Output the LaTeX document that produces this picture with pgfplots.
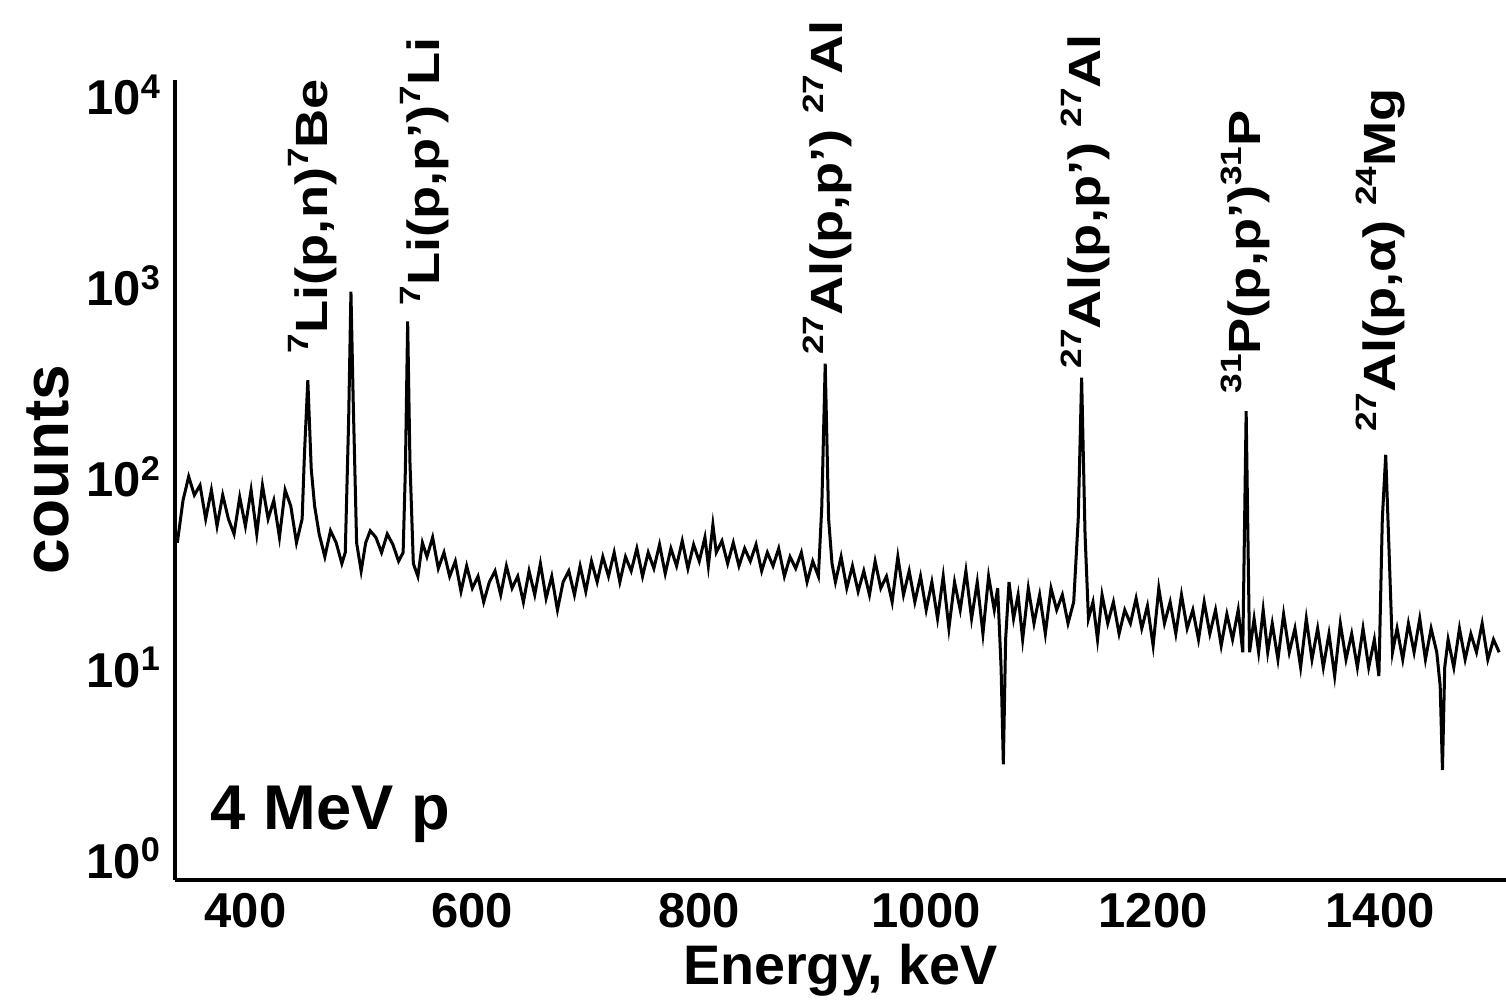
\documentclass[border=0pt]{standalone}
\usepackage{fontspec}
\setmainfont{Liberation Sans}
\usepackage{graphicx}
\usepackage{pgfplots}
\pgfplotsset{compat=1.18}
\newcommand{\lbl}[1]{\scalebox{1.2}[1]{#1}}
\newcommand{\sups}[1]{\raisebox{0.42em}{\fontsize{7.8}{8}\selectfont #1}}
\begin{document}
\begin{tikzpicture}
\path[use as bounding box] (-46.5pt,-34pt) rectangle (353.5pt,233.7pt);
\begin{axis}[
  at={(0,0)}, anchor=south west,
  width=353.5pt, height=212.5pt, scale only axis,
  xmin=338, xmax=1511, ymode=log, ymin=0.77, ymax=12000,
  axis x line=bottom, axis y line=left,
  axis line style={-, line width=0.9pt},
  major tick length=0, minor tick length=0,
  xtick={400,600,800,1000,1200,1400},
  ytick={1,10,100,1000,10000},
  yticklabels={10\textsuperscript{0},10\textsuperscript{1},10\textsuperscript{2},10\textsuperscript{3},10\textsuperscript{4}},
  tick label style={font=\bfseries\fontsize{13}{13}\selectfont},
  /pgf/number format/assume math mode=true,
  xticklabel={\pgfmathprintnumber[fixed,1000 sep={}]{\tick}},
  clip=false,
]
\addplot[black, line width=0.8pt] coordinates {
(340,45)(345,75)(350,100)(355,80)(360,90)(365,60)(370,85)(375,55)(380,80)(385,60)
(390,50)(395,78)(400,55)(405,85)(410,50)(415,90)(420,60)(425,75)(430,48)(435,85)
(440,70)(445,45)(450,60)(452,130)(455,320)(458,110)(461,70)(465,50)(470,38)(475,52)
(480,45)(485,35)(488,40)(491,200)(493,930)(495,250)(498,45)(502,32)(506,45)(510,52)
(515,48)(520,40)(525,50)(530,44)(535,36)(539,40)(541,110)(543,650)(545,120)(548,35)
(552,30)(556,45)(560,38)(565,48)(570,33)(575,40)(580,30)(585,36)(590,25)(595,34)
(600,26)(605,30)(610,22)(615,28)(620,32)(625,24)(630,34)(635,26)(640,30)(645,22)
(650,32)(655,24)(660,35)(665,23)(670,30)(675,20)(680,28)(685,32)(690,24)(695,34)
(700,25)(705,36)(710,28)(715,38)(720,30)(725,40)(730,28)(735,38)(740,32)(745,42)
(750,30)(755,40)(760,33)(765,44)(770,31)(775,42)(780,34)(785,46)(790,33)(795,44)
(800,36)(805,48)(808,34)(812,56)(815,40)(820,46)(825,35)(830,45)(835,34)(840,42)
(845,36)(850,44)(855,32)(860,40)(865,34)(870,42)(875,30)(880,38)(885,33)(890,40)
(895,28)(900,36)(905,30)(908,70)(911,390)(914,60)(917,35)(920,28)(925,38)(930,26)
(935,34)(940,25)(945,32)(950,24)(955,36)(960,26)(965,30)(970,22)(975,38)(980,24)
(985,32)(990,22)(995,30)(1000,20)(1005,28)(1010,18)(1015,30)(1020,16)(1025,28)(1030,20)
(1035,32)(1040,18)(1045,28)(1050,15)(1055,30)(1060,20)(1063,26)(1066,10)(1068,3.1)(1070,14)
(1073,28)(1077,18)(1081,24)(1085,14)(1090,26)(1095,17)(1100,24)(1105,15)(1110,26)(1115,20)
(1120,24)(1125,17)(1130,22)(1134,60)(1137,330)(1140,50)(1143,18)(1147,22)(1151,14)(1155,24)
(1160,17)(1165,22)(1170,15)(1175,20)(1180,17)(1185,23)(1190,16)(1195,21)(1200,13)(1205,26)
(1210,17)(1215,22)(1220,15)(1225,24)(1230,16)(1235,20)(1240,14)(1245,22)(1250,15)(1255,20)
(1260,13)(1265,19)(1270,14)(1275,20)(1279,12)(1282,220)(1285,12)(1289,18)(1293,12)(1297,20)
(1301,12)(1305,17)(1310,11)(1315,19)(1320,12)(1325,16)(1330,10)(1335,18)(1340,11)(1345,16)
(1350,10)(1355,15)(1360,9)(1365,17)(1370,11)(1375,15)(1380,10)(1385,16)(1390,10)(1395,14)
(1399,9)(1402,60)(1405,130)(1408,40)(1411,12)(1415,16)(1420,11)(1425,17)(1430,12)(1435,18)
(1440,11)(1445,16)(1450,12)(1453,8)(1455,2.9)(1457,10)(1460,14)(1465,10)(1470,16)(1475,11)
(1480,15)(1485,12)(1490,17)(1495,11)(1500,14)(1505,12)
};
\begin{scope}[every node/.style={font=\bfseries\fontsize{12}{12}\selectfont, rotate=90, anchor=west, inner sep=0pt}]
\node at (axis cs:459,440) {\lbl{\sups{7}Li(p,n)\sups{7}Be}};
\node at (axis cs:558,780) {\lbl{\sups{7}Li(p,p')\sups{7}Li}};
\node at (axis cs:913,430) {\lbl{\sups{27}Al(p,p') \sups{27}Al}};
\node at (axis cs:1140,365) {\lbl{\sups{27}Al(p,p') \sups{27}Al}};
\node at (axis cs:1281,270) {\lbl{\sups{31}P(p,p')\sups{31}P}};
\node at (axis cs:1400,170) {\lbl{\sups{27}Al(p,α) \sups{24}Mg}};
\end{scope}
\node[font=\bfseries\fontsize{14.8}{15}\selectfont, anchor=center] at (axis description cs:0.5,0) [yshift=-24pt] {Energy, keV};
\node[font=\bfseries\fontsize{17}{17}\selectfont, xshift=-33.7pt, rotate=90, anchor=center] at (axis description cs:0,0.513) {counts};
\node[font=\bfseries\fontsize{16.8}{17}\selectfont, anchor=base west, inner sep=0pt] at (axis description cs:0,0) [xshift=9.3pt, yshift=13.3pt] {4 MeV p};
\end{axis}
\end{tikzpicture}
\end{document}
